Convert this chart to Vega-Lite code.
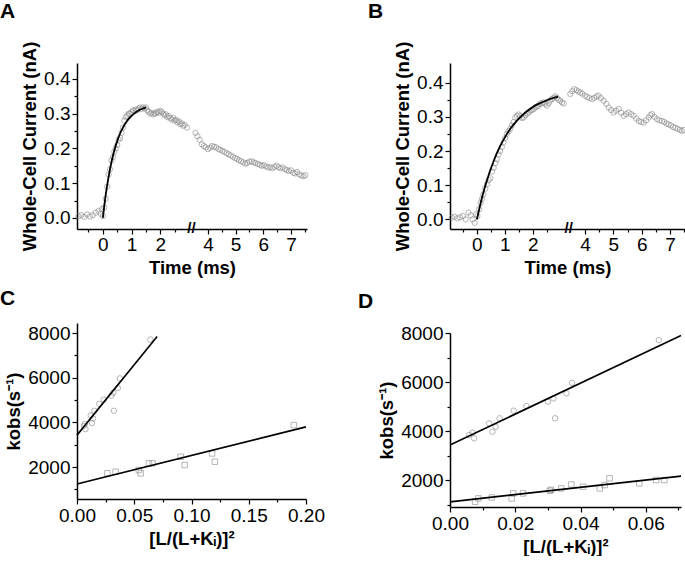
{
  "$schema": "https://vega.github.io/schema/vega-lite/v6.json",
  "padding": {"left": 0, "top": 1, "right": 0, "bottom": 0},
  "config": {
    "font": "Liberation Sans",
    "view": {"stroke": null},
    "axis": {"domainColor": "#000", "domainWidth": 1.5, "tickColor": "#000", "tickWidth": 1.2, "labelFontSize": 19, "labelColor": "#000", "labelFont": "Liberation Sans", "titleFont": "Liberation Sans", "titleFontSize": 18.5, "titleFontWeight": "bold", "titleColor": "#000", "grid": false, "labelPadding": 2, "titlePadding": 4, "labelOverlap": false, "labelFlush": false, "labelBound": false},
    "title": {"fontSize": 21, "fontWeight": "bold", "anchor": "start", "color": "#000", "frame": "group", "font": "Liberation Sans"}
  },
  "datasets": {
    "A_pts": [
      {"t": -0.85, "v": 0.005}, {"t": -0.75, "v": 0.008}, {"t": -0.65, "v": 0.003}, {"t": -0.55, "v": 0.010}, {"t": -0.45, "v": 0.004}, {"t": -0.35, "v": 0.008}, {"t": -0.25, "v": 0.015}, {"t": -0.15, "v": 0.02}, {"t": -0.08, "v": 0.012}, {"t": -0.03, "v": 0.025}, {"t": 0.0, "v": 0.005},
      {"t": 0.05, "v": 0.03}, {"t": 0.1, "v": 0.055}, {"t": 0.15, "v": 0.09}, {"t": 0.2, "v": 0.125}, {"t": 0.25, "v": 0.14}, {"t": 0.3, "v": 0.165}, {"t": 0.35, "v": 0.175}, {"t": 0.4, "v": 0.19}, {"t": 0.45, "v": 0.2}, {"t": 0.5, "v": 0.21}, {"t": 0.55, "v": 0.225}, {"t": 0.6, "v": 0.23}, {"t": 0.65, "v": 0.245}, {"t": 0.7, "v": 0.26}, {"t": 0.75, "v": 0.28}, {"t": 0.8, "v": 0.29}, {"t": 0.85, "v": 0.295}, {"t": 0.9, "v": 0.3}, {"t": 0.95, "v": 0.3}, {"t": 1.0, "v": 0.305}, {"t": 1.05, "v": 0.31}, {"t": 1.1, "v": 0.307}, {"t": 1.15, "v": 0.312}, {"t": 1.2, "v": 0.31}, {"t": 1.25, "v": 0.315}, {"t": 1.3, "v": 0.318}, {"t": 1.35, "v": 0.314}, {"t": 1.4, "v": 0.318}, {"t": 1.45, "v": 0.315}, {"t": 1.5, "v": 0.318}, {"t": 1.55, "v": 0.31}, {"t": 1.6, "v": 0.305}, {"t": 1.65, "v": 0.3}, {"t": 1.7, "v": 0.303}, {"t": 1.75, "v": 0.298}, {"t": 1.8, "v": 0.3}, {"t": 1.85, "v": 0.302}, {"t": 1.9, "v": 0.306}, {"t": 1.95, "v": 0.303}, {"t": 2.0, "v": 0.308}, {"t": 2.05, "v": 0.305}, {"t": 2.1, "v": 0.3}, {"t": 2.15, "v": 0.295}, {"t": 2.2, "v": 0.298}, {"t": 2.25, "v": 0.29}, {"t": 2.3, "v": 0.293}, {"t": 2.35, "v": 0.287}, {"t": 2.4, "v": 0.283}, {"t": 2.45, "v": 0.288}, {"t": 2.5, "v": 0.28}, {"t": 2.55, "v": 0.282}, {"t": 2.6, "v": 0.275}, {"t": 2.65, "v": 0.278}, {"t": 2.7, "v": 0.27}, {"t": 2.75, "v": 0.272}, {"t": 2.8, "v": 0.265}, {"t": 2.85, "v": 0.268}, {"t": 2.93, "v": 0.26},
      {"t": 3.55, "v": 0.245}, {"t": 3.62, "v": 0.235}, {"t": 3.7, "v": 0.225}, {"t": 3.78, "v": 0.212}, {"t": 3.85, "v": 0.207}, {"t": 3.92, "v": 0.203}, {"t": 4.0, "v": 0.198}, {"t": 4.08, "v": 0.202}, {"t": 4.15, "v": 0.207}, {"t": 4.22, "v": 0.205}, {"t": 4.3, "v": 0.203}, {"t": 4.38, "v": 0.198}, {"t": 4.45, "v": 0.196}, {"t": 4.52, "v": 0.193}, {"t": 4.6, "v": 0.19}, {"t": 4.68, "v": 0.186}, {"t": 4.75, "v": 0.183}, {"t": 4.82, "v": 0.18}, {"t": 4.9, "v": 0.176}, {"t": 4.98, "v": 0.172}, {"t": 5.05, "v": 0.17}, {"t": 5.12, "v": 0.166}, {"t": 5.2, "v": 0.163}, {"t": 5.28, "v": 0.16}, {"t": 5.35, "v": 0.156}, {"t": 5.42, "v": 0.158}, {"t": 5.5, "v": 0.162}, {"t": 5.58, "v": 0.163}, {"t": 5.65, "v": 0.16}, {"t": 5.72, "v": 0.158}, {"t": 5.8, "v": 0.155}, {"t": 5.88, "v": 0.153}, {"t": 5.95, "v": 0.15}, {"t": 6.02, "v": 0.152}, {"t": 6.1, "v": 0.148}, {"t": 6.18, "v": 0.145}, {"t": 6.25, "v": 0.146}, {"t": 6.32, "v": 0.143}, {"t": 6.4, "v": 0.147}, {"t": 6.48, "v": 0.15}, {"t": 6.55, "v": 0.146}, {"t": 6.62, "v": 0.143}, {"t": 6.7, "v": 0.145}, {"t": 6.78, "v": 0.14}, {"t": 6.85, "v": 0.138}, {"t": 6.92, "v": 0.135}, {"t": 7.0, "v": 0.137}, {"t": 7.08, "v": 0.13}, {"t": 7.15, "v": 0.128}, {"t": 7.22, "v": 0.132}, {"t": 7.3, "v": 0.125}, {"t": 7.38, "v": 0.122}, {"t": 7.45, "v": 0.12}, {"t": 7.52, "v": 0.123}
    ],
    "A_fit": [
      {"t": 0, "v": 0}, {"t": 0.1, "v": 0.066}, {"t": 0.2, "v": 0.118}, {"t": 0.3, "v": 0.161}, {"t": 0.4, "v": 0.194}, {"t": 0.5, "v": 0.221}, {"t": 0.6, "v": 0.243}, {"t": 0.7, "v": 0.26}, {"t": 0.8, "v": 0.274}, {"t": 0.9, "v": 0.285}, {"t": 1.0, "v": 0.294}, {"t": 1.1, "v": 0.301}, {"t": 1.2, "v": 0.307}, {"t": 1.3, "v": 0.312}, {"t": 1.4, "v": 0.315}, {"t": 1.5, "v": 0.318}
    ],
    "B_pts": [
      {"t": -0.9, "v": 0.005}, {"t": -0.8, "v": 0.008}, {"t": -0.7, "v": 0.003}, {"t": -0.6, "v": 0.006}, {"t": -0.5, "v": 0.01}, {"t": -0.4, "v": 0.0}, {"t": -0.3, "v": 0.02}, {"t": -0.22, "v": 0.012}, {"t": -0.15, "v": 0.0}, {"t": -0.08, "v": -0.01}, {"t": -0.03, "v": 0.015}, {"t": 0.02, "v": 0.01},
      {"t": 0.08, "v": 0.03}, {"t": 0.13, "v": 0.048}, {"t": 0.18, "v": 0.06}, {"t": 0.23, "v": 0.073}, {"t": 0.3, "v": 0.09}, {"t": 0.36, "v": 0.103}, {"t": 0.42, "v": 0.115}, {"t": 0.48, "v": 0.12}, {"t": 0.54, "v": 0.14}, {"t": 0.6, "v": 0.151}, {"t": 0.66, "v": 0.165}, {"t": 0.71, "v": 0.176}, {"t": 0.77, "v": 0.19}, {"t": 0.83, "v": 0.2}, {"t": 0.89, "v": 0.212}, {"t": 0.95, "v": 0.225}, {"t": 1.01, "v": 0.238}, {"t": 1.07, "v": 0.25}, {"t": 1.13, "v": 0.258}, {"t": 1.19, "v": 0.265}, {"t": 1.25, "v": 0.275}, {"t": 1.31, "v": 0.285}, {"t": 1.37, "v": 0.298}, {"t": 1.43, "v": 0.303}, {"t": 1.49, "v": 0.307}, {"t": 1.55, "v": 0.302}, {"t": 1.61, "v": 0.297}, {"t": 1.67, "v": 0.298}, {"t": 1.73, "v": 0.305}, {"t": 1.79, "v": 0.31}, {"t": 1.85, "v": 0.313}, {"t": 1.91, "v": 0.318}, {"t": 1.97, "v": 0.32}, {"t": 2.03, "v": 0.323}, {"t": 2.09, "v": 0.328}, {"t": 2.15, "v": 0.33}, {"t": 2.2, "v": 0.333}, {"t": 2.26, "v": 0.338}, {"t": 2.32, "v": 0.34}, {"t": 2.38, "v": 0.342}, {"t": 2.44, "v": 0.338}, {"t": 2.5, "v": 0.333}, {"t": 2.56, "v": 0.34}, {"t": 2.62, "v": 0.348}, {"t": 2.68, "v": 0.352}, {"t": 2.74, "v": 0.356}, {"t": 2.8, "v": 0.36}, {"t": 2.86, "v": 0.355}, {"t": 2.92, "v": 0.35}, {"t": 2.98, "v": 0.347}, {"t": 3.04, "v": 0.342}, {"t": 3.1, "v": 0.339},
      {"t": 3.48, "v": 0.367}, {"t": 3.55, "v": 0.375}, {"t": 3.62, "v": 0.381}, {"t": 3.7, "v": 0.378}, {"t": 3.77, "v": 0.374}, {"t": 3.83, "v": 0.371}, {"t": 3.9, "v": 0.368}, {"t": 4.0, "v": 0.362}, {"t": 4.08, "v": 0.358}, {"t": 4.16, "v": 0.355}, {"t": 4.25, "v": 0.352}, {"t": 4.33, "v": 0.356}, {"t": 4.41, "v": 0.36}, {"t": 4.48, "v": 0.362}, {"t": 4.56, "v": 0.355}, {"t": 4.66, "v": 0.347}, {"t": 4.75, "v": 0.338}, {"t": 4.84, "v": 0.327}, {"t": 4.92, "v": 0.32}, {"t": 5.01, "v": 0.313}, {"t": 5.1, "v": 0.318}, {"t": 5.19, "v": 0.323}, {"t": 5.28, "v": 0.312}, {"t": 5.37, "v": 0.303}, {"t": 5.45, "v": 0.308}, {"t": 5.54, "v": 0.313}, {"t": 5.63, "v": 0.308}, {"t": 5.72, "v": 0.303}, {"t": 5.81, "v": 0.295}, {"t": 5.9, "v": 0.288}, {"t": 5.98, "v": 0.285}, {"t": 6.07, "v": 0.283}, {"t": 6.16, "v": 0.29}, {"t": 6.25, "v": 0.298}, {"t": 6.31, "v": 0.305}, {"t": 6.37, "v": 0.308}, {"t": 6.45, "v": 0.3}, {"t": 6.54, "v": 0.293}, {"t": 6.63, "v": 0.29}, {"t": 6.72, "v": 0.288}, {"t": 6.8, "v": 0.285}, {"t": 6.88, "v": 0.28}, {"t": 6.95, "v": 0.278}, {"t": 7.03, "v": 0.275}, {"t": 7.11, "v": 0.27}, {"t": 7.19, "v": 0.268}, {"t": 7.27, "v": 0.265}, {"t": 7.35, "v": 0.262}, {"t": 7.42, "v": 0.259}, {"t": 7.49, "v": 0.262}
    ],
    "B_fit": [
      {"t": 0, "v": 0}, {"t": 0.2, "v": 0.069}, {"t": 0.4, "v": 0.125}, {"t": 0.6, "v": 0.171}, {"t": 0.8, "v": 0.209}, {"t": 1.0, "v": 0.24}, {"t": 1.2, "v": 0.266}, {"t": 1.4, "v": 0.286}, {"t": 1.6, "v": 0.303}, {"t": 1.8, "v": 0.317}, {"t": 2.0, "v": 0.329}, {"t": 2.2, "v": 0.338}, {"t": 2.4, "v": 0.345}, {"t": 2.6, "v": 0.352}, {"t": 2.8, "v": 0.357}, {"t": 2.9, "v": 0.359}
    ],
    "circ": [
      {"x": 0.0059, "k": 3840}, {"x": 0.0069, "k": 3930}, {"x": 0.0074, "k": 3700}, {"x": 0.012, "k": 4310}, {"x": 0.013, "k": 3970}, {"x": 0.014, "k": 4175}, {"x": 0.0152, "k": 4520}, {"x": 0.0195, "k": 4830}, {"x": 0.0234, "k": 5020}, {"x": 0.030, "k": 5200}, {"x": 0.0317, "k": 5330}, {"x": 0.0322, "k": 4520}, {"x": 0.0357, "k": 5540}, {"x": 0.0374, "k": 5970}, {"x": 0.064, "k": 7710}
    ],
    "C_sq": [
      {"x": 0.0265, "k": 1720}, {"x": 0.0337, "k": 1790}, {"x": 0.054, "k": 1865}, {"x": 0.0556, "k": 1720}, {"x": 0.0628, "k": 2165}, {"x": 0.066, "k": 2165}, {"x": 0.0905, "k": 2460}, {"x": 0.094, "k": 2090}, {"x": 0.118, "k": 2610}, {"x": 0.1204, "k": 2240}, {"x": 0.1894, "k": 3880}
    ],
    "D_sq": [
      {"x": 0.0077, "k": 1115}, {"x": 0.0087, "k": 1250}, {"x": 0.0128, "k": 1290}, {"x": 0.0189, "k": 1250}, {"x": 0.0194, "k": 1455}, {"x": 0.0224, "k": 1455}, {"x": 0.0306, "k": 1565}, {"x": 0.031, "k": 1600}, {"x": 0.0341, "k": 1660}, {"x": 0.0372, "k": 1820}, {"x": 0.0408, "k": 1730}, {"x": 0.0459, "k": 1660}, {"x": 0.0474, "k": 1795}, {"x": 0.0489, "k": 2070}, {"x": 0.058, "k": 1865}, {"x": 0.0632, "k": 2000}, {"x": 0.0657, "k": 2000}
    ],
    "C_fit": [
      {"x": 0, "k": 3430, "s": "a"}, {"x": 0.07, "k": 7850, "s": "a"}, {"x": 0, "k": 1240, "s": "b"}, {"x": 0.2, "k": 3800, "s": "b"}
    ],
    "D_fit": [
      {"x": 0, "k": 3430, "s": "a"}, {"x": 0.0708, "k": 7900, "s": "a"}, {"x": 0, "k": 1110, "s": "b"}, {"x": 0.0708, "k": 2160, "s": "b"}
    ]
  },
  "spacing": 33,
  "hconcat": [
    {
      "spacing": 11,
      "vconcat": [
        {
          "title": {"text": "A", "dx": -77, "offset": 19},
          "width": 230, "height": 166,
          "encoding": {
            "x": {"field": "t", "type": "quantitative", "scale": {"domain": [-0.9, 3.0, 3.46, 7.58], "range": [0, 112, 116, 230], "nice": false, "zero": false}, "axis": {"title": "Time (ms)", "values": [-0.5, 0, 0.5, 1, 1.5, 2, 2.5, 3.23, 4, 4.5, 5, 5.5, 6, 6.5, 7, 7.5], "labelExpr": "datum.value == 3.23 ? '//' : (datum.value % 1 == 0 ? format(datum.value, 'd') : '')", "tickSize": {"condition": {"test": "datum.value % 1 == 0", "value": 5}, "value": 3}, "tickOpacity": {"condition": {"test": "datum.value == 3.23", "value": 0}, "value": 1}, "labelPadding": {"condition": {"test": "datum.value == 3.23", "value": -4.5}, "value": 1}, "labelBaseline": {"condition": {"test": "datum.value == 3.23", "value": "middle"}, "value": "top"}, "labelFontWeight": {"condition": {"test": "datum.value == 3.23", "value": "bold"}, "value": "normal"}, "labelFontSize": {"condition": {"test": "datum.value == 3.23", "value": 15}, "value": 19}}},
            "y": {"field": "v", "type": "quantitative", "scale": {"domain": [-0.032, 0.446], "nice": false, "zero": false}, "axis": {"title": "Whole-Cell Current (nA)", "values": [0, 0.05, 0.1, 0.15, 0.2, 0.25, 0.3, 0.35, 0.4], "labelExpr": "round(datum.value * 20) % 2 == 0 ? format(datum.value, '.1f') : ''", "tickSize": {"condition": {"test": "round(datum.value * 20) % 2 == 0", "value": 5}, "value": 3}}}
          },
          "layer": [
            {"data": {"name": "A_pts"}, "mark": {"type": "point", "shape": "circle", "filled": false, "color": "#8a8a8a", "strokeWidth": 0.9, "size": 28}},
            {"data": {"name": "A_fit"}, "mark": {"type": "line", "color": "#000", "strokeWidth": 1.8, "interpolate": "monotone"}}
          ]
        },
        {
          "title": {"text": "C", "dx": -77, "offset": 14},
          "width": 229, "height": 176,
          "encoding": {
            "x": {"field": "x", "type": "quantitative", "scale": {"domain": [0, 0.2], "nice": false, "zero": false}, "axis": {"title": "[L/(L+Kᵢ)]²", "values": [0, 0.025, 0.05, 0.075, 0.1, 0.125, 0.15, 0.175, 0.2], "labelExpr": "round(datum.value * 40) % 2 == 0 ? format(datum.value, '.2f') : ''", "tickSize": {"condition": {"test": "round(datum.value * 40) % 2 == 0", "value": 5}, "value": 3}}},
            "y": {"field": "k", "type": "quantitative", "scale": {"domain": [570, 8450], "nice": false, "zero": false}, "axis": {"title": "kobs(s⁻¹)", "values": [1000, 2000, 3000, 4000, 5000, 6000, 7000, 8000], "labelExpr": "datum.value % 2000 == 0 ? format(datum.value, 'd') : ''", "tickSize": {"condition": {"test": "datum.value % 2000 == 0", "value": 5}, "value": 3}}}
          },
          "layer": [
            {"data": {"name": "circ"}, "mark": {"type": "point", "shape": "circle", "filled": false, "color": "#8a8a8a", "strokeWidth": 0.9, "size": 30}},
            {"data": {"name": "C_sq"}, "mark": {"type": "point", "shape": "square", "filled": false, "color": "#8a8a8a", "strokeWidth": 0.9, "size": 30}},
            {"data": {"name": "C_fit"}, "mark": {"type": "line", "color": "#000", "strokeWidth": 1.6}, "encoding": {"detail": {"field": "s"}}}
          ]
        }
      ]
    },
    {
      "spacing": 14,
      "vconcat": [
        {
          "title": {"text": "B", "dx": -82, "offset": 19},
          "width": 235, "height": 166,
          "encoding": {
            "x": {"field": "t", "type": "quantitative", "scale": {"domain": [-0.96, 3.2, 3.47, 7.53], "range": [0, 116.5, 120, 235], "nice": false, "zero": false}, "axis": {"title": "Time (ms)", "values": [-0.5, 0, 0.5, 1, 1.5, 2, 2.5, 3.33, 4, 4.5, 5, 5.5, 6, 6.5, 7, 7.5], "labelExpr": "datum.value == 3.33 ? '//' : (datum.value % 1 == 0 ? format(datum.value, 'd') : '')", "tickSize": {"condition": {"test": "datum.value % 1 == 0", "value": 5}, "value": 3}, "tickOpacity": {"condition": {"test": "datum.value == 3.33", "value": 0}, "value": 1}, "labelPadding": {"condition": {"test": "datum.value == 3.33", "value": -4.5}, "value": 1}, "labelBaseline": {"condition": {"test": "datum.value == 3.33", "value": "middle"}, "value": "top"}, "labelFontWeight": {"condition": {"test": "datum.value == 3.33", "value": "bold"}, "value": "normal"}, "labelFontSize": {"condition": {"test": "datum.value == 3.33", "value": 15}, "value": 19}}},
            "y": {"field": "v", "type": "quantitative", "scale": {"domain": [-0.028, 0.4575], "nice": false, "zero": false}, "axis": {"title": "Whole-Cell Current (nA)", "values": [0, 0.05, 0.1, 0.15, 0.2, 0.25, 0.3, 0.35, 0.4], "labelExpr": "round(datum.value * 20) % 2 == 0 ? format(datum.value, '.1f') : ''", "tickSize": {"condition": {"test": "round(datum.value * 20) % 2 == 0", "value": 5}, "value": 3}}}
          },
          "layer": [
            {"data": {"name": "B_pts"}, "mark": {"type": "point", "shape": "circle", "filled": false, "color": "#8a8a8a", "strokeWidth": 0.9, "size": 28}},
            {"data": {"name": "B_fit"}, "mark": {"type": "line", "color": "#000", "strokeWidth": 1.8, "interpolate": "monotone"}}
          ]
        },
        {
          "title": {"text": "D", "dx": -92, "offset": 12},
          "width": 231, "height": 174,
          "encoding": {
            "x": {"field": "x", "type": "quantitative", "scale": {"domain": [0, 0.0708], "nice": false, "zero": false}, "axis": {"title": "[L/(L+Kᵢ)]²", "values": [0, 0.01, 0.02, 0.03, 0.04, 0.05, 0.06, 0.07], "labelExpr": "round(datum.value * 100) % 2 == 0 ? format(datum.value, '.2f') : ''", "tickSize": {"condition": {"test": "round(datum.value * 100) % 2 == 0", "value": 5}, "value": 3}}},
            "y": {"field": "k", "type": "quantitative", "scale": {"domain": [900, 8000], "nice": false, "zero": false}, "axis": {"title": "kobs(s⁻¹)", "values": [1000, 2000, 3000, 4000, 5000, 6000, 7000, 8000], "labelExpr": "datum.value % 2000 == 0 ? format(datum.value, 'd') : ''", "tickSize": {"condition": {"test": "datum.value % 2000 == 0", "value": 5}, "value": 3}}}
          },
          "layer": [
            {"data": {"name": "circ"}, "mark": {"type": "point", "shape": "circle", "filled": false, "color": "#8a8a8a", "strokeWidth": 0.9, "size": 30}},
            {"data": {"name": "D_sq"}, "mark": {"type": "point", "shape": "square", "filled": false, "color": "#8a8a8a", "strokeWidth": 0.9, "size": 30}},
            {"data": {"name": "D_fit"}, "mark": {"type": "line", "color": "#000", "strokeWidth": 1.6}, "encoding": {"detail": {"field": "s"}}}
          ]
        }
      ]
    }
  ]
}
